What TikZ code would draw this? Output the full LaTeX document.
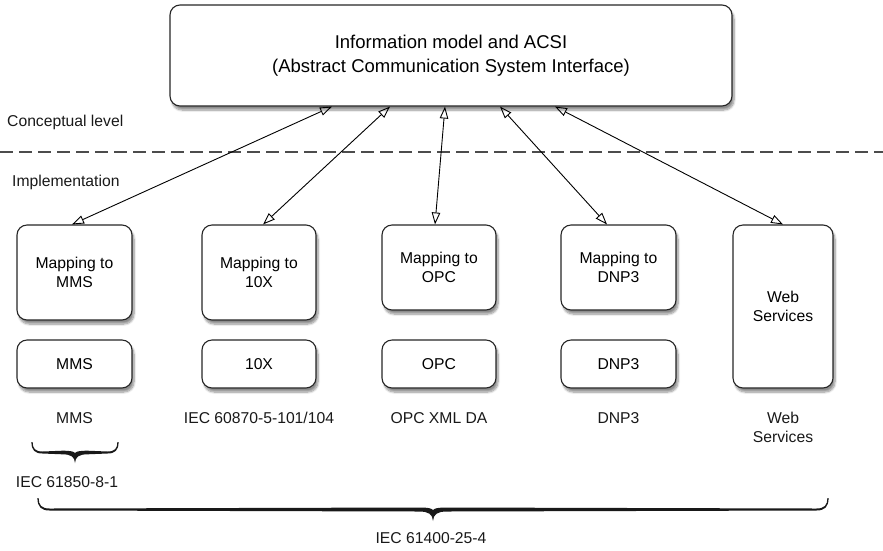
\documentclass[tikz,border=0pt]{standalone}
\usepackage{fontspec}
\setmainfont{Liberation Sans}
\usetikzlibrary{arrows.meta,shadows.blur,calc}
\newcommand\tapbrace[6]{% x0 x1 y amplitude mid-half-thickness end-half-thickness
  \pgfmathsetmacro\bxa{#1}\pgfmathsetmacro\bxb{#2}\pgfmathsetmacro\by{#3}%
  \pgfmathsetmacro\bm{(#1+#2)/2}\pgfmathsetmacro\bh{#3+#4/2}\pgfmathsetmacro\bt{#3+#4}%
  \pgfmathsetmacro\br{#4/2}\pgfmathsetmacro\bk{#5}\pgfmathsetmacro\be{#6}%
  \pgfmathsetmacro\bq{#3+0.35*#4}%
  \fill[black!90] (\bxa-0.6,\by) .. controls (\bxa-0.6,\bq+\be) and (\bxa+0.3*\br,\bh+\be) .. (\bxa+\br,\bh+\be)
    -- (\bm-1.2*\br,\bh+\bk) .. controls (\bm-0.4*\br,\bh+\bk) and (\bm-0.3,\bh+0.4*\br) .. (\bm,\bt)
    .. controls (\bm+0.3,\bh+0.4*\br) and (\bm+0.4*\br,\bh+\bk) .. (\bm+1.2*\br,\bh+\bk)
    -- (\bxb-\br,\bh+\be) .. controls (\bxb-0.3*\br,\bh+\be) and (\bxb+0.6,\bq+\be) .. (\bxb+0.6,\by)
    -- (\bxb-0.6,\by) .. controls (\bxb-0.6,\bq-\be) and (\bxb-0.3*\br,\bh-\be) .. (\bxb-\br,\bh-\be)
    -- (\bm+1.2*\br,\bh-\bk) .. controls (\bm+0.4*\br,\bh-\bk) and (\bm,\bh-1) .. (\bm,\bh+1)
    .. controls (\bm,\bh-1) and (\bm-0.4*\br,\bh-\bk) .. (\bm-1.2*\br,\bh-\bk)
    -- (\bxa+\br,\bh-\be) .. controls (\bxa+0.3*\br,\bh-\be) and (\bxa+0.6,\bq-\be) .. (\bxa+0.6,\by) -- cycle;
}
\begin{document}
\begin{tikzpicture}[x=1pt,y=-1pt,
  box/.style={draw=black!85,line width=1.1pt,rounded corners=10pt,fill=white,
    inner sep=0pt,align=center,font=\fontsize{15.7}{18.5}\selectfont,
    blur shadow={shadow xshift=2pt,shadow yshift=-4pt,shadow blur steps=8,shadow opacity=45}},
  lbl/.style={inner sep=0pt,align=center,font=\fontsize{15.7}{18.5}\selectfont,text=black!90},
  link/.style={line width=0.9pt,{Triangle[open,length=12pt,width=8.5pt]}-{Triangle[open,length=12pt,width=8.5pt]}}
]
\useasboundingbox (0,0) rectangle (883,550);

\node[box,minimum width=562pt,minimum height=101pt,font=\fontsize{18.5}{24}\selectfont] (top) at (451,55.5)
  {Information model and ACSI\\(Abstract Communication System Interface)};

\node[lbl,anchor=west] (concept) at (7,122) {Conceptual level};
\node[lbl,anchor=west] (impl) at (12,182) {Implementation};
\draw[black!70,line width=1.3pt,dash pattern=on 13pt off 6pt] (0,152) -- (883,152);

\node[box,minimum width=115pt,minimum height=95pt] (m1) at (74.5,272.5) {Mapping to\\MMS};
\node[box,minimum width=114pt,minimum height=95pt] (m2) at (259,272.5) {Mapping to\\10X};
\node[box,minimum width=114pt,minimum height=85pt] (m3) at (439,267.5) {Mapping to\\OPC};
\node[box,minimum width=115pt,minimum height=85pt] (m4) at (618.5,267.5) {Mapping to\\DNP3};
\node[box,minimum width=100pt,minimum height=163pt] (ws) at (783,306.5) {Web\\Services};

\node[box,minimum width=115pt,minimum height=48pt] (s1) at (74.5,364) {MMS};
\node[box,minimum width=114pt,minimum height=48pt] (s2) at (259,364) {10X};
\node[box,minimum width=114pt,minimum height=48pt] (s3) at (439,364) {OPC};
\node[box,minimum width=115pt,minimum height=48pt] (s4) at (618.5,364) {DNP3};

\node[lbl] (l1) at (74.5,418) {MMS};
\node[lbl] (l2) at (259,418) {IEC 60870-5-101/104};
\node[lbl] (l3) at (439,418) {OPC XML DA};
\node[lbl] (l4) at (618.5,418) {DNP3};
\node[lbl] (l5) at (783,427.5) {Web\\Services};

\draw[link] ([xshift=-119pt]top.south) -- ([xshift=-2.5pt]m1.north);
\draw[link] ([xshift=-61pt]top.south) -- ([xshift=4pt]m2.north);
\draw[link] ([xshift=-6pt]top.south) -- ([xshift=-4pt]m3.north);
\draw[link] ([xshift=49pt]top.south) -- ([xshift=-11.5pt]m4.north);
\draw[link] ([xshift=104pt]top.south) -- (ws.north);

\tapbrace{32}{118}{442}{21}{1.8}{1.0}
\node[lbl] (iec1) at (67,482) {IEC 61850-8-1};

\tapbrace{38}{828}{498}{23}{2.0}{1.0}
\node[lbl] (iec2) at (431,538) {IEC 61400-25-4};
\end{tikzpicture}
\end{document}
